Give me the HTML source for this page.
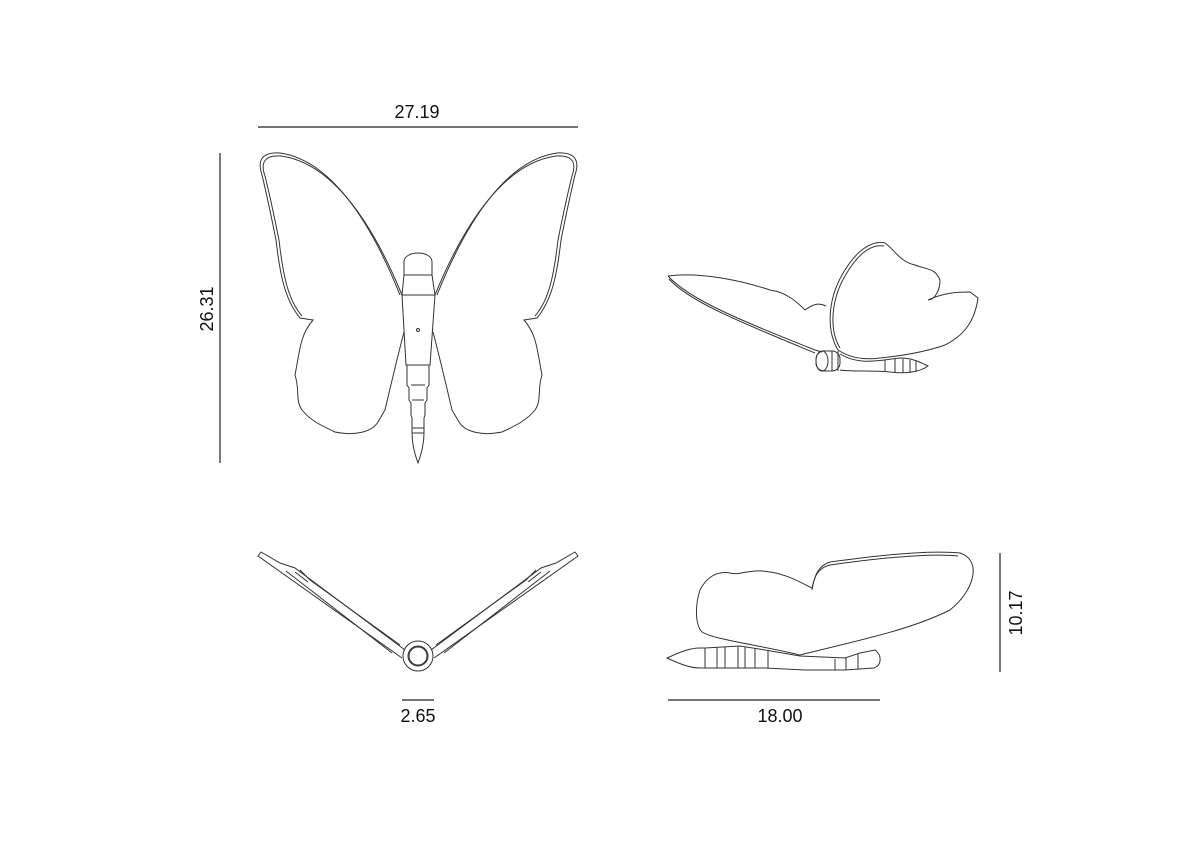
<!DOCTYPE html>
<html><head><meta charset="utf-8"><style>
html,body{margin:0;padding:0;background:#fff;}
svg{display:block;}
text{font-family:"Liberation Sans",sans-serif;font-size:18px;fill:#111;}
.l{fill:none;stroke:#333;stroke-width:1;}
.d{fill:none;stroke:#222;stroke-width:1.2;}
</style></head><body>
<svg width="1200" height="848" viewBox="0 0 1200 848" xmlns="http://www.w3.org/2000/svg">
<line class="d" x1="258" y1="127" x2="578" y2="127"/>
<text x="417" y="118" text-anchor="middle">27.19</text>
<line class="d" x1="220" y1="153" x2="220" y2="463"/>
<text transform="translate(213,309) rotate(-90)" text-anchor="middle">26.31</text>
<line class="d" x1="402" y1="700" x2="434" y2="700"/>
<text x="418" y="722" text-anchor="middle">2.65</text>
<line class="d" x1="668" y1="700" x2="880" y2="700"/>
<text x="780" y="722" text-anchor="middle">18.00</text>
<line class="d" x1="1000" y1="553" x2="1000" y2="672"/>
<text transform="translate(1022,613) rotate(-90)" text-anchor="middle">10.17</text>

<g id="lw">
<path class="l" d="M400,295 C370,220 330,160 280,153 C262,152 257,160 262,175 C268,200 272,220 276,240 C280,275 285,300 300,318 L313,320 C300,335 300,350 295,375 C300,390 295,400 302,410 C310,420 320,425 335,432 C355,436 372,432 378,422 L385,410 C392,380 398,355 404,332"/>
<path class="l" d="M402,295 C372,222 332,163 281,156 C265,155 260,162 265,176 C271,200 275,220 279,240 C283,275 288,300 302,316" />
</g>
<use href="#lw" transform="translate(837,0) scale(-1,1)"/>
<path class="l" d="M404,275 L404,262 C404,250 432,250 432,262 L432,275 Z"/>
<path class="l" d="M404,275 L402,295 L435,295 L432,275"/>
<path class="l" d="M402,295 L406,365 L430,365 L435,295 Z"/>
<circle cx="418" cy="330" r="1.5" class="l"/>
<path class="l" d="M407,365 L407,385 L409,388 L409,400 L411,403 L411,415 L412,418 L412,428 L424,428 L424,418 L425,415 L425,403 L427,400 L427,388 L429,385 L429,365"/>
<line class="l" x1="411" y1="385" x2="425" y2="385"/>
<line class="l" x1="412" y1="400" x2="424" y2="400"/>
<path class="l" d="M412,428 L412,433 L424,433 L424,428 M412,433 C412,445 415,455 418,463 C421,455 424,445 424,433"/>

<path class="l" d="M668,276 C700,272 740,280 770,290 C785,292 795,300 805,310 C812,305 818,302 826,306 M668,276 C690,300 740,320 815,350 L822,352"/>
<path class="l" d="M669,279 C690,302 740,322 815,353"/>
<path class="l" d="M838,350 C826,330 828,300 842,275 C855,252 870,240 885,243 C895,250 900,262 915,265 C928,270 935,268 940,280 C940,290 935,300 928,300 C945,292 960,292 970,292 L978,298 C975,320 965,335 945,345 C925,352 900,356 880,358 C865,360 850,358 838,350"/>
<path class="l" d="M840,348 C829,330 831,300 845,276 C857,255 870,244 884,246"/>
<rect x="816" y="351" width="24" height="20" rx="8" class="l"/>
<ellipse cx="822" cy="361" rx="6" ry="10" class="l"/>
<line class="l" x1="832" y1="351" x2="832" y2="371"/>
<line class="l" x1="838" y1="351" x2="838" y2="371"/>
<path class="l" d="M840,354 C860,366 880,360 900,358 C912,358 920,362 928,366 C920,372 905,374 890,372 C870,370 855,372 840,370"/>
<path class="l" d="M885,360 L885,372 M895,359 L895,373 M903,359 L903,373 M910,360 L910,373 M916,361 L916,372"/>

<circle cx="418" cy="656" r="15" class="l"/>
<circle cx="418" cy="656" r="10" class="l"/>
<circle cx="418" cy="656" r="9" class="l" stroke-width="2"/>
<g id="bw">
<path class="l" d="M402,658 L258,556 L261,552 L280,563 L295,568 L405,650"/>
<path class="l" d="M392,653 L286,571 M300,570 L310,580 L400,645"/>
<path class="l" d="M295,572 L308,582"/>
</g>
<use href="#bw" transform="translate(836,0) scale(-1,1)"/>

<path class="l" d="M800,655 C860,640 910,630 950,610 C975,590 982,560 960,553 C930,550 880,555 830,562 C818,566 815,575 812,588 C805,585 790,575 770,572 C750,568 740,576 730,573 C715,570 705,580 700,590 C695,605 695,625 702,632 C715,640 760,645 800,655"/>
<path class="l" d="M812,590 C814,576 818,568 830,565 C880,558 930,553 958,556"/>
<path class="l" d="M667,658 C680,652 690,648 700,648 L705,648 L705,668 L700,668 C690,668 680,664 667,658 Z"/>
<path class="l" d="M705,648 L740,646 L765,650 L800,656 L845,658 L860,653 L875,650 C882,655 882,665 874,668 L845,670 L805,670 L765,668 L740,668 L705,668"/>
<path class="l" d="M717,647 L717,668 M725,647 L725,668 M738,646 L738,668 M745,647 L745,668 M755,648 L755,668 M768,651 L768,668 M835,659 L835,670 M846,657 L846,670 M858,654 L858,669"/>
</svg>
</body></html>
